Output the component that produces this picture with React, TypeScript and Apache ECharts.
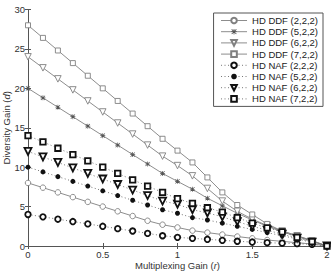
import React, { useEffect, useRef } from "react";
import * as echarts from "echarts";

const rValues = [0, 0.1, 0.2, 0.3, 0.4, 0.5, 0.6, 0.7, 0.8, 0.9, 1.0, 1.1, 1.2, 1.3, 1.4, 1.5, 1.6, 1.7, 1.8, 1.9, 2.0];

const ddf222 = [8, 7.4, 6.8, 6.2, 5.6, 5.0, 4.4, 3.8, 3.2, 2.7, 2.35, 1.95, 1.7, 1.45, 1.2, 0.97, 0.76, 0.59, 0.42, 0.25, 0];
const ddf522 = [20, 18.8, 17.6, 16.4, 15.2, 14.0, 12.8, 11.6, 10.4, 9.2, 8.2, 7.2, 6.06, 5.1, 4.15, 3.3, 2.5, 1.8, 1.2, 0.6, 0];
const ddf622 = [24, 22.6, 21.2, 19.8, 18.4, 17.0, 15.6, 14.2, 12.8, 11.4, 10.2, 8.9, 7.3, 5.7, 4.4, 3.4, 2.6, 1.9, 1.3, 0.65, 0];
const ddf722 = [28, 26.4, 24.8, 23.2, 21.6, 20.0, 18.4, 16.8, 15.2, 13.6, 12.1, 10.6, 8.7, 6.8, 5.2, 4.0, 2.8, 1.9, 1.3, 0.7, 0];
const naf222 = [4, 3.7, 3.4, 3.1, 2.8, 2.5, 2.2, 1.9, 1.6, 1.3, 1.1, 0.97, 0.85, 0.72, 0.6, 0.5, 0.42, 0.36, 0.3, 0.2, 0];
const naf522 = [10, 9.4, 8.8, 8.2, 7.6, 7.0, 6.4, 5.8, 5.2, 4.6, 4.15, 3.6, 3.3, 2.9, 2.5, 2.1, 1.7, 1.3, 0.9, 0.45, 0];
const naf622 = [12, 11.3, 10.6, 9.9, 9.2, 8.5, 7.8, 7.1, 6.4, 5.7, 5.3, 4.6, 4.2, 3.7, 3.1, 2.5, 2.0, 1.5, 1.0, 0.5, 0];
const naf722 = [14, 13.2, 12.4, 11.6, 10.8, 10.0, 9.2, 8.4, 7.6, 6.8, 6.0, 5.4, 4.85, 4.3, 3.6, 2.9, 2.3, 1.8, 1.1, 0.55, 0];

const seriesNames = [
  "HD DDF (2,2,2)",
  "HD DDF (5,2,2)",
  "HD DDF (6,2,2)",
  "HD DDF (7,2,2)",
  "HD NAF (2,2,2)",
  "HD NAF (5,2,2)",
  "HD NAF (6,2,2)",
  "HD NAF (7,2,2)",
];
const seriesValues = [ddf222, ddf522, ddf622, ddf722, naf222, naf522, naf622, naf722];

const xTicks = [0, 0.5, 1, 1.5, 2];
const yTicks = [0, 5, 10, 15, 20, 25, 30];

const FONT = "Liberation Sans, Arial, Helvetica, sans-serif";
const GREY = "#808080";
const BLACK = "#111";

const ASTERISK =
  "path://M4.3,0 L5.7,0 L5.7,10 L4.3,10 Z M0,4.3 L10,4.3 L10,5.7 L0,5.7 Z M1.3,0.3 L9.7,8.7 L8.7,9.7 L0.3,1.3 Z M8.7,0.3 L9.7,1.3 L1.3,9.7 L0.3,8.7 Z";
const TRI_DOWN = "path://M0,0 L10,0 L5,8.7 Z";

const styles: any[] = [
  { symbol: "circle", size: 5.5, fill: "#fff", border: GREY, bw: 0.9, dotted: false },
  { symbol: ASTERISK, size: 5, fill: "#555", border: "#555", bw: 0, dotted: false },
  { symbol: TRI_DOWN, size: 6.5, fill: "#fff", border: GREY, bw: 0.9, dotted: false },
  { symbol: "rect", size: 5, fill: "#fff", border: GREY, bw: 0.9, dotted: false },
  { symbol: "circle", size: 5.5, fill: "#fff", border: BLACK, bw: 1.8, dotted: true },
  { symbol: "circle", size: 5, fill: BLACK, border: BLACK, bw: 0, dotted: true },
  { symbol: TRI_DOWN, size: 7, fill: "#fff", border: BLACK, bw: 1.8, dotted: true },
  { symbol: "rect", size: 5.5, fill: "#fff", border: BLACK, bw: 1.8, dotted: true },
];

export default function App() {
  const ref = useRef<HTMLDivElement>(null);
  useEffect(() => {
    if (!ref.current) return;
    const chart = echarts.init(ref.current, undefined, { renderer: "svg" });
    const series = seriesNames.map((name, i) => {
      const s = styles[i];
      return {
        name,
        type: "line",
        data: rValues.map((r, j) => [r, seriesValues[i][j]]),
        symbol: s.symbol,
        symbolSize: s.size,
        showAllSymbol: true,
        clip: false,
        lineStyle: {
          color: s.dotted ? "#666" : GREY,
          width: 0.9,
          type: s.dotted ? [1, 2.5] : "solid",
        },
        itemStyle: { color: s.fill, borderColor: s.border, borderWidth: s.bw },
        z: s.dotted ? 3 : 2,
      };
    });
    const axisCommon = {
      axisLine: { show: true, lineStyle: { color: "#555", width: 1 } },
      axisTick: { show: true, inside: true, length: 3, lineStyle: { color: "#555" } },
      splitLine: { show: false },
    };
    const nameStyle = {
      fontFamily: FONT,
      fontSize: 9.5,
      color: "#333",
      rich: { i: { fontStyle: "italic", fontFamily: FONT, fontSize: 9.5, color: "#333" } },
    };
    chart.setOption({
      animation: false,
      backgroundColor: "#fff",
      textStyle: { fontFamily: FONT },
      grid: { left: 28, right: 4, top: 9.5, bottom: 27, containLabel: false, outerBoundsMode: "none" },
      legend: {
        orient: "vertical",
        right: 8,
        top: 13,
        data: seriesNames,
        itemWidth: 26,
        itemHeight: 7,
        itemGap: 0.2,
        padding: [2, 5, 2, 7],
        backgroundColor: "#fff",
        borderColor: "#555",
        borderWidth: 1,
        borderRadius: 0,
        lineStyle: { width: 0.9 },
        textStyle: { fontFamily: FONT, fontSize: 9.5, color: "#222", lineHeight: 11 },
        selectedMode: false,
      },
      xAxis: [
        {
          type: "value",
          min: 0,
          max: 2,
          interval: 0.5,
          name: "Multiplexing Gain ({i|r})",
          nameLocation: "middle",
          nameGap: 14,
          nameMoveOverlap: false,
          nameTextStyle: nameStyle,
          axisLabel: {
            fontFamily: FONT,
            fontSize: 9.5,
            color: "#333",
            margin: 3,
            formatter: (v: number) => (xTicks.includes(v) ? String(v) : ""),
          },
          ...axisCommon,
        },
        {
          type: "value",
          position: "top",
          min: 0,
          max: 2,
          interval: 0.5,
          axisLabel: { show: false },
          ...axisCommon,
        },
      ],
      yAxis: [
        {
          type: "value",
          min: 0,
          max: 30,
          interval: 5,
          name: "Diversity Gain ({i|d})",
          nameLocation: "middle",
          nameGap: 17,
          nameMoveOverlap: false,
          nameTextStyle: nameStyle,
          axisLabel: {
            fontFamily: FONT,
            fontSize: 9.5,
            color: "#333",
            margin: 3,
            formatter: (v: number) => (yTicks.includes(v) ? String(v) : ""),
          },
          ...axisCommon,
        },
        {
          type: "value",
          position: "right",
          min: 0,
          max: 30,
          interval: 5,
          axisLabel: { show: false },
          ...axisCommon,
        },
      ],
      series,
    });
    return () => chart.dispose();
  }, []);
  return <div ref={ref} style={{ width: 331, height: 273, position: "absolute", left: 0, top: 0 }} />;
}
